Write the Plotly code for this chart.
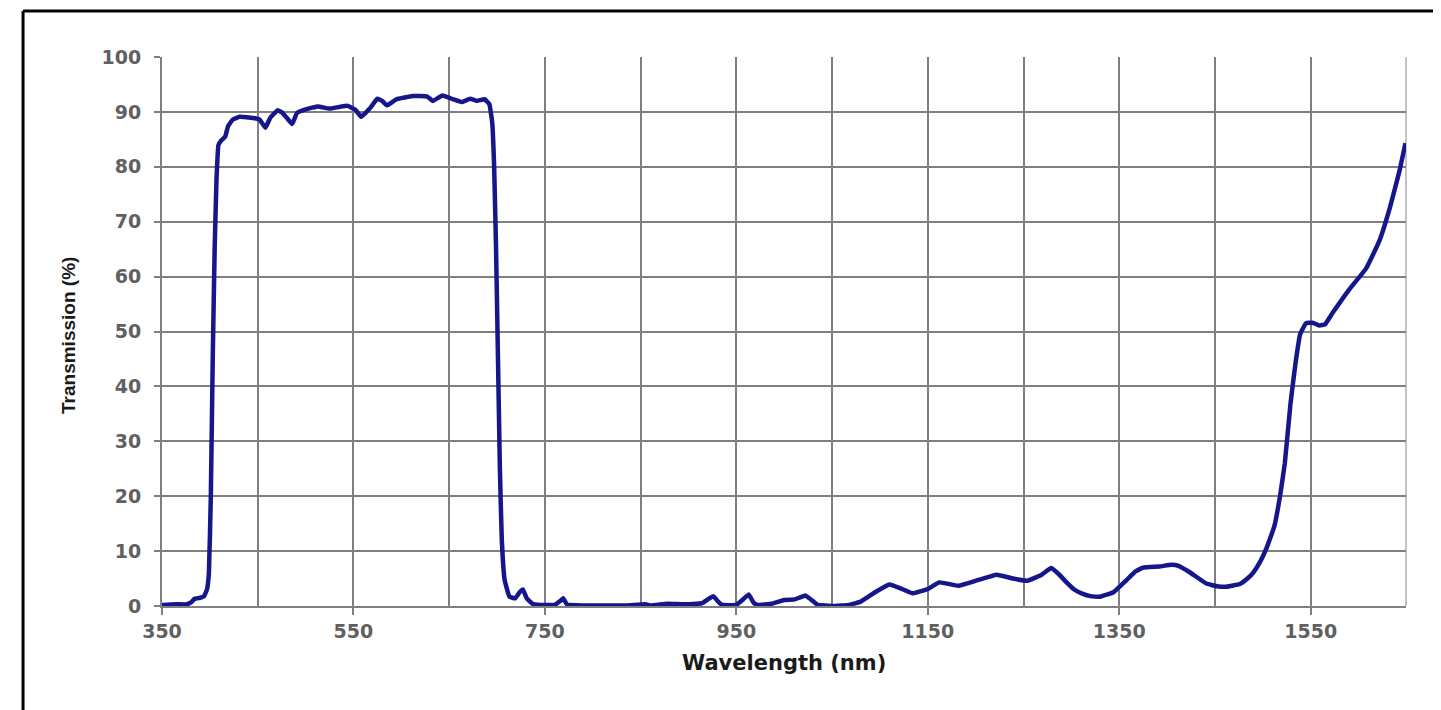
import plotly.graph_objects as go

wavelength_nm = [
    350, 365, 375, 380, 384, 390, 394, 397, 399, 401, 403, 405, 407, 409, 412, 416, 419, 424, 431,
    445, 452, 458, 463, 471, 476, 480, 486, 491, 501, 513, 525, 535, 544, 552, 558, 567, 575, 580,
    585, 595, 612, 627, 633, 643, 654, 663, 672, 679, 687, 692, 695, 697, 699, 701, 703, 705, 708,
    713, 719, 724, 727, 731, 737, 745, 760, 766, 769, 773, 790, 835, 855, 860, 878, 895, 914, 921,
    926, 931, 935, 950, 957, 963, 968, 972, 987, 1000, 1011, 1022, 1030, 1035, 1051, 1068, 1080,
    1095, 1110, 1123, 1134, 1150, 1162, 1182, 1202, 1222, 1239, 1254, 1268, 1279, 1288, 1295, 1303,
    1312, 1320, 1330, 1344, 1357, 1367, 1375, 1392, 1405, 1412, 1424, 1441, 1452, 1462, 1476, 1484,
    1490, 1497, 1504, 1512, 1518, 1523, 1529, 1534, 1539, 1545, 1552, 1559, 1565, 1573, 1590, 1608,
    1622, 1633, 1643, 1649,
]
transmission_pct = [
    0.2, 0.3, 0.3, 0.6, 1.3, 1.5, 1.8, 3.0, 6, 20, 45, 65, 78, 84, 84.8, 85.5, 87.4, 88.6, 89.1,
    88.9, 88.6, 87.1, 88.9, 90.3, 89.8, 89.0, 87.8, 89.8, 90.5, 91.0, 90.6, 90.9, 91.1, 90.4, 89.1,
    90.6, 92.4, 92.0, 91.2, 92.3, 92.9, 92.8, 92.0, 93.0, 92.3, 91.8, 92.4, 92.0, 92.3, 91.4, 88,
    80, 65, 45, 25, 12, 4.7, 1.7, 1.4, 2.6, 3.0, 1.4, 0.4, 0.2, 0.2, 0.9, 1.4, 0.3, 0.1, 0.1, 0.3,
    0.1, 0.4, 0.3, 0.5, 1.3, 1.8, 0.8, 0.2, 0.2, 1.2, 2.1, 0.6, 0.2, 0.4, 1.1, 1.2, 1.9, 0.9, 0.2,
    0.0, 0.2, 0.8, 2.5, 3.9, 3.1, 2.3, 3.1, 4.3, 3.7, 4.7, 5.7, 5.0, 4.6, 5.6, 6.9, 5.6, 4.3, 3.0,
    2.2, 1.8, 1.7, 2.5, 4.6, 6.3, 7.0, 7.2, 7.5, 7.3, 6.1, 4.1, 3.6, 3.5, 4.0, 5.0, 6.1, 8.0, 10.6,
    14.5, 20, 26, 37, 44, 49.5, 51.5, 51.6, 51.1, 51.3, 53.4, 57.6, 61.5, 66.6, 72.7, 79.4, 84.3,
]

x_tick_values = [350, 550, 750, 950, 1150, 1350, 1550]
x_tick_labels = ["350", "550", "750", "950", "1150", "1350", "1550"]
y_tick_values = [0, 10, 20, 30, 40, 50, 60, 70, 80, 90, 100]
y_tick_labels = ["0", "10", "20", "30", "40", "50", "60", "70", "80", "90", "100"]

GRID = "#808080"
TICKFONT = dict(family="DejaVu Sans", size=19, color="#606060", weight="bold")

fig = go.Figure()
fig.add_trace(go.Scatter(
    x=wavelength_nm, y=transmission_pct, mode="lines",
    line=dict(color="#15158c", width=4.5, shape="spline", smoothing=0.3),
    showlegend=False, hoverinfo="skip",
))

fig.update_layout(
    width=1433, height=702,
    margin=dict(l=154, r=35, t=49, b=104, autoexpand=False),
    paper_bgcolor="white", plot_bgcolor="white",
    xaxis=dict(
        range=[350, 1649.6], tickmode="array", tickvals=x_tick_values, ticktext=x_tick_labels,
        showgrid=True, gridcolor=GRID, gridwidth=2,
        minor=dict(tickmode="linear", tick0=350, dtick=100, showgrid=True, gridcolor=GRID, gridwidth=2, ticks=""),
        ticks="outside", ticklen=7, tickwidth=2, tickcolor=GRID,
        showline=True, linecolor=GRID, linewidth=2, zeroline=False,
        tickfont=TICKFONT, ticklabelstandoff=0, automargin=False,
    ),
    yaxis=dict(
        range=[0, 100], tickmode="array", tickvals=y_tick_values, ticktext=y_tick_labels,
        showgrid=True, gridcolor=GRID, gridwidth=2,
        ticks="outside", ticklen=6, tickwidth=2, tickcolor=GRID,
        showline=True, linecolor=GRID, linewidth=2, zeroline=False,
        tickfont=TICKFONT, ticklabelstandoff=9, automargin=False,
    ),
    shapes=[
        # light plot frame on the right
        dict(type="line", xref="paper", yref="paper", x0=1, x1=1, y0=0, y1=1,
             line=dict(color="#c4c4c4", width=2), layer="below"),
        # outer black frame of the picture
        dict(type="line", xref="paper", yref="paper", x0=-0.1117, x1=1.04, y0=1.0838, y1=1.0838,
             line=dict(color="black", width=3)),
        dict(type="line", xref="paper", yref="paper", x0=-0.1117, x1=-0.1117, y0=1.0838, y1=-0.2,
             line=dict(color="black", width=3)),
    ],
    annotations=[
        dict(text="<b>Wavelength (nm)</b>", xref="paper", yref="paper", x=0.5, y=-0.1038,
             xanchor="center", yanchor="middle", showarrow=False,
             font=dict(family="DejaVu Sans", size=21, color="#1a1a1a")),
        dict(text="<b>Transmission (%)</b>", xref="paper", yref="paper", x=-0.0756, y=0.4936,
             xanchor="center", yanchor="middle", textangle=-90, showarrow=False,
             font=dict(family="Liberation Sans", size=19, color="#1a1a1a")),
    ],
)

fig.write_html("out.html")
